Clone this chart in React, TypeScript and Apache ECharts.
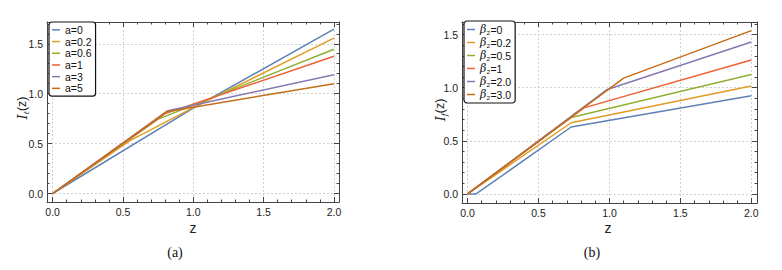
import React, { useEffect, useRef } from "react";
import * as echarts from "echarts";

// ---------- data ----------
const tickMajor = [0, 0.5, 1, 1.5, 2];
const tickMinorX = [0.1, 0.2, 0.3, 0.4, 0.6, 0.7, 0.8, 0.9, 1.1, 1.2, 1.3, 1.4, 1.6, 1.7, 1.8, 1.9];
const tickMajorY = [0, 0.5, 1, 1.5];
const tickMinorY = [0.1, 0.2, 0.3, 0.4, 0.6, 0.7, 0.8, 0.9, 1.1, 1.2, 1.3, 1.4, 1.6, 1.7];

// panel (a)
const aNames = ["a=0", "a=0.2", "a=0.6", "a=1", "a=3", "a=5"];
const a0Z = [0, 1.0, 2];
const a0I = [0, 0.855, 1.647];
const a02Z = [0, 0.55, 1.0, 2];
const a02I = [0, 0.53, 0.86, 1.556];
const a06Z = [0, 0.75, 2];
const a06I = [0, 0.745, 1.445];
const a1Z = [0, 0.8, 2];
const a1I = [0, 0.8, 1.375];
const a3Z = [0, 0.82, 2];
const a3I = [0, 0.83, 1.19];
const a5Z = [0, 0.81, 2];
const a5I = [0, 0.82, 1.1];

// panel (b)
const bNames = ["β₂=0", "β₂=0.2", "β₂=0.5", "β₂=1", "β₂=2.0", "β₂=3.0"];
const b0Z = [0, 0.06, 0.73, 2];
const b0I = [0, 0, 0.63, 0.925];
const b02Z = [0, 0.73, 2];
const b02I = [0, 0.67, 1.015];
const b05Z = [0, 0.73, 2];
const b05I = [0, 0.72, 1.125];
const b1Z = [0, 0.82, 2];
const b1I = [0, 0.81, 1.26];
const b2Z = [0, 0.98, 2];
const b2I = [0, 0.98, 1.43];
const b3Z = [0, 1.1, 2];
const b3I = [0, 1.09, 1.537];

const colors = ["#5E81B5", "#E19C24", "#8FB032", "#EB6235", "#8778B3", "#C56E1A"];

const aSeries = [
  [a0Z, a0I],
  [a02Z, a02I],
  [a06Z, a06I],
  [a1Z, a1I],
  [a3Z, a3I],
  [a5Z, a5I],
];
const bSeries = [
  [b0Z, b0I],
  [b02Z, b02I],
  [b05Z, b05I],
  [b1Z, b1I],
  [b2Z, b2I],
  [b3Z, b3I],
];

const FRAME = "#444";
const FONT = "Liberation Sans";

function xAxes(grid: number, min: number, max: number) {
  const base = {
    type: "value",
    gridIndex: grid,
    min,
    max,
    axisLine: { show: true, onZero: false, lineStyle: { color: FRAME, width: 1 } },
  };
  return [
    {
      ...base,
      position: "bottom",
      axisTick: { show: true, inside: true, length: 5, customValues: tickMajor, lineStyle: { color: FRAME } },
      axisLabel: {
        show: true,
        customValues: tickMajor,
        formatter: (v: number) => v.toFixed(1),
        color: "#222",
        fontSize: 10.5,
        fontFamily: FONT,
        margin: 4,
      },
      splitLine: { show: true, lineStyle: { color: "#d0d0d0", type: [2, 2], width: 1 } },
    },
    {
      ...base,
      position: "top",
      axisTick: { show: true, inside: true, length: 5, customValues: tickMajor, lineStyle: { color: FRAME } },
      axisLabel: { show: false },
      splitLine: { show: false },
    },
    {
      ...base,
      position: "bottom",
      axisLine: { show: false, onZero: false },
      axisTick: { show: true, inside: true, length: 2.5, customValues: tickMinorX, lineStyle: { color: FRAME } },
      axisLabel: { show: false },
      splitLine: { show: false },
    },
    {
      ...base,
      position: "top",
      axisLine: { show: false, onZero: false },
      axisTick: { show: true, inside: true, length: 2.5, customValues: tickMinorX, lineStyle: { color: FRAME } },
      axisLabel: { show: false },
      splitLine: { show: false },
    },
  ];
}

function yAxes(grid: number, min: number, max: number) {
  const base = {
    type: "value",
    gridIndex: grid,
    min,
    max,
    axisLine: { show: true, onZero: false, lineStyle: { color: FRAME, width: 1 } },
  };
  return [
    {
      ...base,
      position: "left",
      axisTick: { show: true, inside: true, length: 5, customValues: tickMajorY, lineStyle: { color: FRAME } },
      axisLabel: {
        show: true,
        customValues: tickMajorY,
        formatter: (v: number) => v.toFixed(1),
        color: "#222",
        fontSize: 10.5,
        fontFamily: FONT,
        margin: 4,
      },
      splitLine: { show: true, lineStyle: { color: "#d0d0d0", type: [2, 2], width: 1 } },
    },
    {
      ...base,
      position: "right",
      axisTick: { show: true, inside: true, length: 5, customValues: tickMajorY, lineStyle: { color: FRAME } },
      axisLabel: { show: false },
      splitLine: { show: false },
    },
    {
      ...base,
      position: "left",
      axisLine: { show: false, onZero: false },
      axisTick: { show: true, inside: true, length: 2.5, customValues: tickMinorY, lineStyle: { color: FRAME } },
      axisLabel: { show: false },
      splitLine: { show: false },
    },
    {
      ...base,
      position: "right",
      axisLine: { show: false, onZero: false },
      axisTick: { show: true, inside: true, length: 2.5, customValues: tickMinorY, lineStyle: { color: FRAME } },
      axisLabel: { show: false },
      splitLine: { show: false },
    },
  ];
}

function buildSeries(names: string[], data: number[][][], axisIndex: number) {
  return names.map((name, i) => ({
    name,
    type: "line",
    xAxisIndex: axisIndex,
    yAxisIndex: axisIndex,
    showSymbol: false,
    symbol: "none",
    color: colors[i],
    lineStyle: { color: colors[i], width: 1.5 },
    data: data[i][0].map((z, k) => [z, data[i][1][k]]),
  }));
}

function legendCfg(names: string[], left: number, top: number, lineHeight: number, rich: boolean) {
  return {
    data: names,
    orient: "vertical",
    left,
    top,
    icon: "rect",
    itemWidth: 8,
    itemHeight: 1.5,
    itemGap: 0,
    selectedMode: false,
    backgroundColor: "#fff",
    borderColor: "#111",
    borderWidth: 1.2,
    borderRadius: 3,
    padding: [2, 4, 2, 3],
    formatter: rich ? (n: string) => `{b|β}{n|${n.slice(1)}}` : undefined,
    textStyle: {
      color: "#111",
      fontSize: 10.5,
      fontFamily: FONT,
      lineHeight,
      rich: rich
        ? {
            b: { fontStyle: "italic", fontSize: 11, fontFamily: "DejaVu Serif", color: "#111", lineHeight },
            n: { fontSize: 10.5, fontFamily: FONT, color: "#111", lineHeight },
          }
        : undefined,
    },
  };
}

function yLabel(x: number, y: number, sub: string) {
  return {
    type: "text",
    x,
    y,
    rotation: Math.PI / 2,
    style: {
      text: `{i|I}{s|${sub}}{n|(z)}`,
      align: "center",
      verticalAlign: "middle",
      rich: {
        i: { fontStyle: "italic", fontSize: 13, fontFamily: "DejaVu Serif", fill: "#222", lineHeight: 16 },
        s: { fontStyle: "italic", fontSize: 8, fontFamily: "DejaVu Serif", fill: "#222", lineHeight: 16, verticalAlign: "bottom", padding: [6, 0, 0, 0] },
        n: { fontSize: 12.5, fontFamily: FONT, fill: "#222", lineHeight: 16 },
      },
    },
  };
}

export default function App() {
  const ref = useRef<HTMLDivElement>(null);
  useEffect(() => {
    if (!ref.current) return;
    const chart = echarts.init(ref.current, null, { renderer: "svg" });
    const option = {
      animation: false,
      backgroundColor: "#fff",
      grid: [
        { left: 47, top: 22, width: 292, height: 180 },
        { left: 462, top: 22, width: 295, height: 181 },
      ],
      xAxis: [...xAxes(0, -0.04, 2.036), ...xAxes(1, -0.039, 2.04)],
      yAxis: [...yAxes(0, -0.085, 1.718), ...yAxes(1, -0.085, 1.618)],
      legend: [legendCfg(aNames, 49, 22, 11.7, false), legendCfg(bNames, 464, 21, 13, true)],
      series: [...buildSeries(aNames, aSeries, 0), ...buildSeries(bNames, bSeries, 4)],
      graphic: [
        yLabel(22, 108, "t"),
        yLabel(440, 110, "f"),
        {
          type: "text",
          x: 193,
          y: 228,
          style: { text: "z", align: "center", verticalAlign: "middle", fontSize: 14, fontFamily: FONT, fill: "#222" },
        },
        {
          type: "text",
          x: 608,
          y: 228,
          style: { text: "z", align: "center", verticalAlign: "middle", fontSize: 14, fontFamily: FONT, fill: "#222" },
        },
        {
          type: "text",
          x: 175,
          y: 252,
          style: { text: "(a)", align: "center", verticalAlign: "middle", fontSize: 14, fontFamily: "Liberation Serif", fill: "#111" },
        },
        {
          type: "text",
          x: 592,
          y: 252,
          style: { text: "(b)", align: "center", verticalAlign: "middle", fontSize: 14, fontFamily: "Liberation Serif", fill: "#111" },
        },
      ],
    };
    chart.setOption(option as any);
    return () => chart.dispose();
  }, []);
  return (
    <div
      ref={ref}
      style={{ position: "fixed", left: 0, top: 0, width: 782, height: 270, background: "#fff" }}
    />
  );
}
